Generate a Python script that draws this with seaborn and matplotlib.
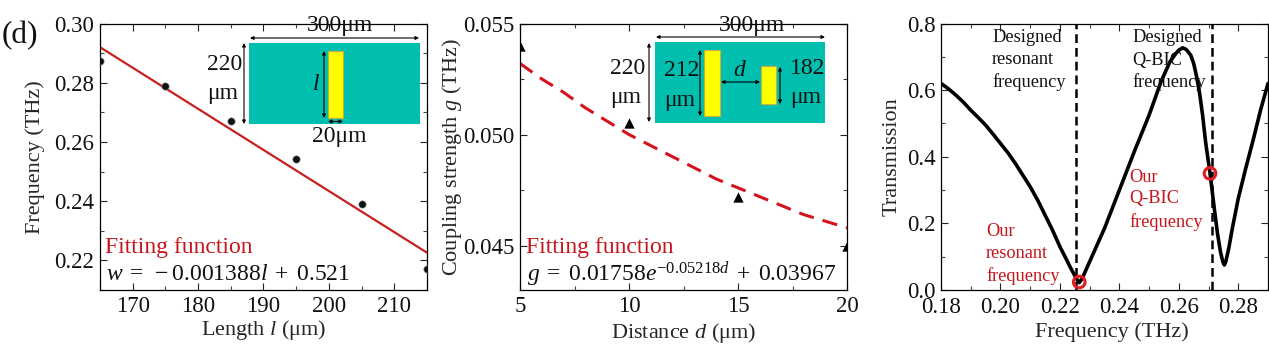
import numpy as np
import pandas as pd
import matplotlib
matplotlib.use('Agg')
import matplotlib.pyplot as plt
import seaborn as sns
from matplotlib.patches import Rectangle, FancyArrowPatch
from matplotlib.transforms import blended_transform_factory

# panel 1 - frequency vs length
length_pts = [165, 175, 185, 195, 205, 215]
freq_pts = [0.2875, 0.2788, 0.267, 0.2541, 0.2392, 0.217]
length_fit = [165, 215]
freq_fit = [0.2920, 0.2226]

# panel 2 - coupling strength vs distance
dist_pts = [5, 10, 15, 20]
g_pts = [0.054, 0.0505, 0.0472, 0.045]
dist_fit = [5, 6, 7, 8, 9, 10, 11, 12, 13, 14, 15, 16, 17, 18, 19, 20]
g_fit = [0.0532, 0.0525, 0.0519, 0.0512, 0.0506, 0.0500, 0.0495, 0.0490,
         0.0485, 0.0480, 0.0476, 0.0472, 0.0468, 0.0464, 0.0461, 0.0458]

# panel 3 - transmission spectrum
spec_f = [0.18, 0.1825, 0.185, 0.1875, 0.19, 0.1925, 0.195, 0.1975, 0.20, 0.2025, 0.205, 0.2075,
          0.21, 0.2125, 0.215, 0.2175, 0.22, 0.222, 0.2235, 0.2255,
          0.2265, 0.2275, 0.23, 0.235, 0.24, 0.245, 0.25, 0.254, 0.257, 0.259, 0.26,
          0.2613, 0.2625, 0.264, 0.265, 0.266, 0.267, 0.268, 0.269, 0.2705, 0.272, 0.273, 0.274, 0.2748,
          0.2753, 0.2758, 0.2768, 0.278, 0.28, 0.2825, 0.285, 0.2875, 0.29]
spec_t = [0.62, 0.604, 0.585, 0.564, 0.54, 0.518, 0.495, 0.468, 0.44, 0.412, 0.38, 0.345,
          0.31, 0.27, 0.225, 0.18, 0.13, 0.095, 0.068, 0.035,
          0.022, 0.035, 0.085, 0.185, 0.30, 0.415, 0.525, 0.625, 0.685, 0.71, 0.72,
          0.727, 0.722, 0.705, 0.68, 0.64, 0.59, 0.525, 0.445, 0.35, 0.24, 0.17, 0.115, 0.085,
          0.075, 0.085, 0.125, 0.185, 0.275, 0.365, 0.45, 0.54, 0.62]
marked_f = [0.2265, 0.2705]
marked_t = [0.024, 0.35]
designed_f = [0.2255, 0.2712]

sns.set_theme(style='ticks')
plt.rcParams['font.family'] = ['Liberation Serif', 'DejaVu Serif']
plt.rcParams['mathtext.fontset'] = 'custom'
plt.rcParams['mathtext.rm'] = 'Liberation Serif'
plt.rcParams['mathtext.it'] = 'Liberation Serif:italic'

W, H = 1269, 355
fig = plt.figure(figsize=(W / 100, H / 100), dpi=100)


def make_ax(left, right, top, bottom):
    return fig.add_axes([left / W, 1 - bottom / H, (right - left) / W, (bottom - top) / H])


ax1 = make_ax(100, 427, 23.5, 290)
ax2 = make_ax(520, 847, 23.5, 290)
ax3 = make_ax(941, 1268, 23.5, 290)
red = '#c4161c'
tfs = 16.5
lfs = 16

# panel 1
sns.lineplot(x=length_fit, y=freq_fit, ax=ax1, color='#c8201f', lw=1.6)
sns.scatterplot(x=length_pts, y=freq_pts, ax=ax1, color='#111111', s=28, edgecolor='#888888',
                linewidth=0.4, clip_on=True, zorder=4)
ax1.set_xlim(165, 215)
ax1.set_ylim(0.21, 0.30)
ax1.set_xticks([170, 180, 190, 200, 210])
ax1.set_xticks([165, 175, 185, 195, 205, 215], minor=True)
ax1.set_yticks([0.22, 0.24, 0.26, 0.28, 0.30])
ax1.set_yticklabels(['0.22', '0.24', '0.26', '0.28', '0.30'])
ax1.set_yticks([0.21, 0.23, 0.25, 0.27, 0.29], minor=True)
ax1.set_xlabel(r'Length $\mathit{l}$ ($\mathrm{\mu}$m)', fontsize=lfs)
ax1.set_ylabel('Frequency (THz)', fontsize=lfs)

# panel 2
sns.lineplot(x=dist_fit, y=g_fit, ax=ax2, color='#d4141c', lw=2.2, linestyle=(0, (5, 3)))
sns.scatterplot(x=dist_pts, y=g_pts, ax=ax2, color='black', s=55, marker='^', linewidth=0, zorder=4)
ax2.set_xlim(5, 20)
ax2.set_ylim(0.043, 0.055)
ax2.set_xticks([5, 10, 15, 20])
ax2.set_xticks([7.5, 12.5, 17.5], minor=True)
ax2.set_yticks([0.045, 0.050, 0.055])
ax2.set_yticklabels(['0.045', '0.050', '0.055'])
ax2.set_yticks([0.0475, 0.0525], minor=True)
ax2.set_xlabel(r'Distance $\mathit{d}$ ($\mathrm{\mu}$m)', fontsize=lfs)
ax2.set_ylabel(r'Coupling strength $\mathit{g}$ (THz)', fontsize=lfs)

# panel 3
for f in designed_f:
    ax3.axvline(f, color='black', lw=1.8, linestyle=(0, (3.5, 2)), zorder=2)
sns.lineplot(x=spec_f, y=spec_t, ax=ax3, color='black', lw=2.6, zorder=3)
sns.scatterplot(x=marked_f, y=marked_t, ax=ax3, s=70, facecolor='none', edgecolor='#e01b22',
                linewidth=2.2, zorder=5, clip_on=False)
ax3.set_xlim(0.18, 0.29)
ax3.set_ylim(0, 0.8)
ax3.set_xticks([0.18, 0.20, 0.22, 0.24, 0.26, 0.28])
ax3.set_xticklabels(['0.18', '0.20', '0.22', '0.24', '0.26', '0.28'])
ax3.set_xticks([0.19, 0.21, 0.23, 0.25, 0.27, 0.29], minor=True)
ax3.set_yticks([0, 0.2, 0.4, 0.6, 0.8])
ax3.set_yticks([0.1, 0.3, 0.5, 0.7], minor=True)
ax3.set_xlabel('Frequency (THz)', fontsize=lfs)
ax3.set_ylabel('Transmission', fontsize=lfs)

# label centres in pixels
ylabel_x = {ax1: 35, ax2: 452, ax3: 892}
xlabel_y = {ax1: 330, ax2: 333, ax3: 332}
xlabel_c = {ax1: 0.5, ax2: 0.5, ax3: 0.523}
for ax in (ax1, ax2, ax3):
    ax.tick_params(axis='both', which='major', direction='in', length=5, width=0.8, labelsize=tfs,
                   top=True, right=True, pad=4, color='#222222', labelcolor='#111111')
    ax.tick_params(axis='both', which='minor', direction='in', length=3, width=0.8, top=True, right=True,
                   color='#444444')
    for s in ax.spines.values():
        s.set_linewidth(0.9)
        s.set_color('black')
    ax.set_facecolor('white')
    ax.xaxis.label.set_va('center')
    ax.yaxis.label.set_va('center')
    ax.xaxis.set_label_coords(xlabel_c[ax], 1 - xlabel_y[ax] / H,
                              transform=blended_transform_factory(ax.transAxes, fig.transFigure))
    ax.yaxis.set_label_coords(ylabel_x[ax] / W, 0.5,
                              transform=blended_transform_factory(fig.transFigure, ax.transAxes))
ax3.tick_params(axis='x', which='major', pad=5)


# text and schematics placed in figure pixels
def ftext(x, y, s, **kw):
    kw.setdefault('fontsize', tfs)
    kw.setdefault('va', 'center')
    kw.setdefault('color', '#111111')
    kw.setdefault('zorder', 9)
    fig.text(x / W, 1 - y / H, s, **kw)


def box(x0, y0, x1, y1, fc, ec='none', z=6):
    fig.add_artist(Rectangle((x0 / W, 1 - y1 / H), (x1 - x0) / W, (y1 - y0) / H, transform=fig.transFigure,
                             facecolor=fc, edgecolor=ec, linewidth=0.8, zorder=z))


def arrow(x0, y0, x1, y1):
    fig.add_artist(FancyArrowPatch((x0 / W, 1 - y0 / H), (x1 / W, 1 - y1 / H), transform=fig.transFigure,
                                   arrowstyle='<|-|>', color='black', lw=0.8, shrinkA=0, shrinkB=0,
                                   mutation_scale=5, zorder=8))


teal = '#00bfae'
yellow = '#ffff00'
gold = '#c8b040'
math_kw = dict(math_fontfamily='custom', fontsize=17)

ftext(2, 36, '(d)', fontsize=22.5)

# inset 1
box(249, 43, 420, 124, teal)
box(328, 51, 343, 118, yellow, gold, 7)
arrow(250, 38, 419, 38)
arrow(244, 43, 244, 124)
arrow(324, 51, 324, 118)
arrow(328, 121.5, 343, 121.5)
ftext(340, 25, '300μm', ha='center', fontsize=17)
ftext(207, 64, '220', fontsize=17)
ftext(207, 94, 'μm', fontsize=17)
ftext(316, 84, 'l', fontsize=17, style='italic', ha='center')
ftext(339, 137, '20μm', ha='center', fontsize=17)
ftext(105, 248, 'Fitting function', color=red, fontsize=17)
ftext(106, 274, r'$w\;=\;-0.001388l\;+\;0.521$', **math_kw)

# inset 2
box(654.5, 42, 825, 123, teal)
box(704, 49.5, 720, 116, yellow, gold, 7)
box(761, 66, 776, 104, yellow, gold, 7)
arrow(656, 37, 825, 37)
arrow(649, 43, 649, 122)
arrow(700, 50, 700, 116)
arrow(721, 82, 760, 82)
arrow(780, 67, 780, 104)
ftext(752, 25, '300μm', ha='center', fontsize=17)
ftext(610, 69, '220', fontsize=17)
ftext(610, 98, 'μm', fontsize=17)
ftext(664, 70, '212', fontsize=17)
ftext(664, 100, 'μm', fontsize=17)
ftext(739, 70, 'd', fontsize=17, style='italic', ha='center')
ftext(790, 68, '182', fontsize=17)
ftext(790, 98, 'μm', fontsize=17)
ftext(526, 248, 'Fitting function', color=red, fontsize=17)
ftext(527, 274, r'$g\;=\;0.01758e^{-0.05218d}\;+\;0.03967$', **math_kw)

# annotations panel 3
ann = 13.2
for y, s in zip([37, 60, 82], ['Designed', 'resonant', 'frequency']):
    ftext(992, y, s, fontsize=ann)
for y, s in zip([37, 60, 82], ['Designed', 'Q-BIC', 'frequency']):
    ftext(1132, y, s, fontsize=ann)
for y, s in zip([231, 254, 276], ['Our', 'resonant', 'frequency']):
    ftext(986, y, s, fontsize=ann, color=red)
for y, s in zip([177, 199, 222], ['Our', 'Q-BIC', 'frequency']):
    ftext(1129, y, s, fontsize=ann, color=red)

fig.savefig('out.png', dpi=100)
